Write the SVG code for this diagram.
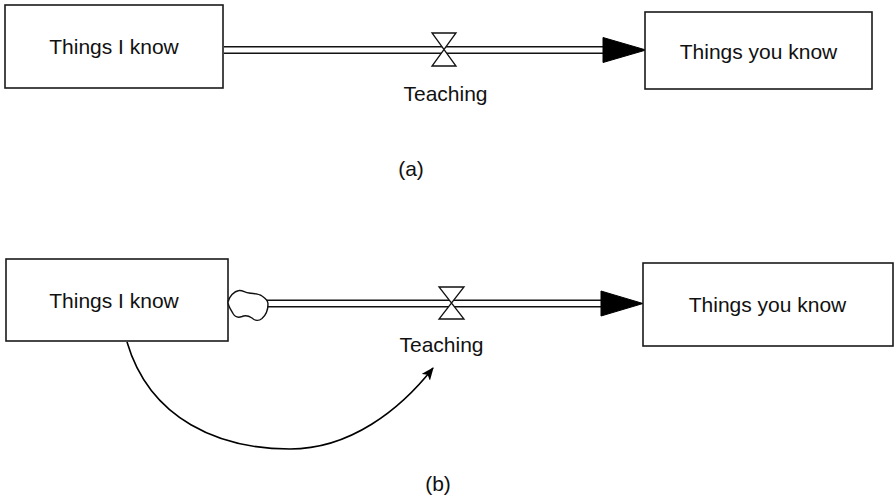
<svg xmlns="http://www.w3.org/2000/svg" width="894" height="497" viewBox="0 0 894 497">
  <style>
    .stock { fill: #ffffff; stroke: #1a1a1a; stroke-width: 1.6; }
    .label { font-family: "Liberation Sans", Arial, Helvetica, sans-serif; font-size: 21px; fill: #111111; text-anchor: middle; }
    .pipe { stroke: #111111; stroke-width: 1.5; fill: none; }
    .head { fill: #000000; stroke: #000000; stroke-width: 1; }
    .valve { fill: #ffffff; stroke: #111111; stroke-width: 1.3; stroke-linejoin: miter; }
    .cloud { fill: #ffffff; stroke: #111111; stroke-width: 1.4; }
    .link { fill: none; stroke: #000000; stroke-width: 1.6; }
  </style>
  <defs>
    <marker id="linkHead" viewBox="0 0 12 10" refX="11" refY="5" markerWidth="13" markerHeight="11" markerUnits="userSpaceOnUse" orient="auto">
      <path d="M0,0 L12,5 L0,10 L3,5 Z" fill="#000000"/>
    </marker>
  </defs>

  <rect width="894" height="497" fill="#ffffff"/>

  <!-- connectors: material pipes and the information link -->
  <g id="connectors">
    <!-- (a) pipe from Things I know to Things you know -->
    <line class="pipe" x1="224" y1="46.8" x2="604" y2="46.8"/>
    <line class="pipe" x1="224" y1="53.2" x2="604" y2="53.2"/>
    <polygon class="head" points="603,37.5 646,50 603,62.5"/>

    <!-- (b) pipe from the source cloud to Things you know -->
    <line class="pipe" x1="266" y1="300.3" x2="602" y2="300.3"/>
    <line class="pipe" x1="266" y1="306.7" x2="602" y2="306.7"/>
    <polygon class="head" points="601,291 643,303.5 601,316"/>

    <!-- (b) link from Things I know to Teaching -->
    <path class="link" d="M127,342 C150,420 220,449 290,449 C350,449 400,410 433,368" marker-end="url(#linkHead)"/>
  </g>

  <!-- diagram (a) -->
  <g id="stock-things-i-know-a">
    <rect class="stock" x="5" y="5" width="218" height="83"/>
    <text class="label" x="114" y="54">Things I know</text>
  </g>
  <g id="stock-things-you-know-a">
    <rect class="stock" x="645" y="12" width="227" height="77"/>
    <text class="label" x="758.5" y="59">Things you know</text>
  </g>
  <g id="flow-teaching-a">
    <path class="valve" d="M432,33 L456,33 L432,66 L456,66 Z"/>
    <text class="label" x="445.5" y="101">Teaching</text>
  </g>
  <text class="label" x="411" y="176">(a)</text>

  <!-- diagram (b) -->
  <g id="stock-things-i-know-b">
    <rect class="stock" x="6" y="259" width="222" height="82"/>
    <text class="label" x="114" y="308">Things I know</text>
  </g>
  <g id="source-cloud-b">
    <path class="cloud" d="M228,302 C229,297 234,291 239,290.5 C243,290 245,293 249,293 C253,294 258,293 262,296 C265,298 268,301 268,304 C268,309 266,315 262,318.5 C259,321 255,321 252,318 C249,316 245,315 242,316.5 C238,318 235,317 233,313.5 C231,310 228,306 228,302 Z"/>
  </g>
  <g id="stock-things-you-know-b">
    <rect class="stock" x="643" y="263" width="250" height="83"/>
    <text class="label" x="767.5" y="312">Things you know</text>
  </g>
  <g id="flow-teaching-b">
    <path class="valve" d="M439,287 L464,287 L439,319 L464,319 Z"/>
    <text class="label" x="441.5" y="352">Teaching</text>
  </g>
  <text class="label" x="438" y="491">(b)</text>
</svg>
